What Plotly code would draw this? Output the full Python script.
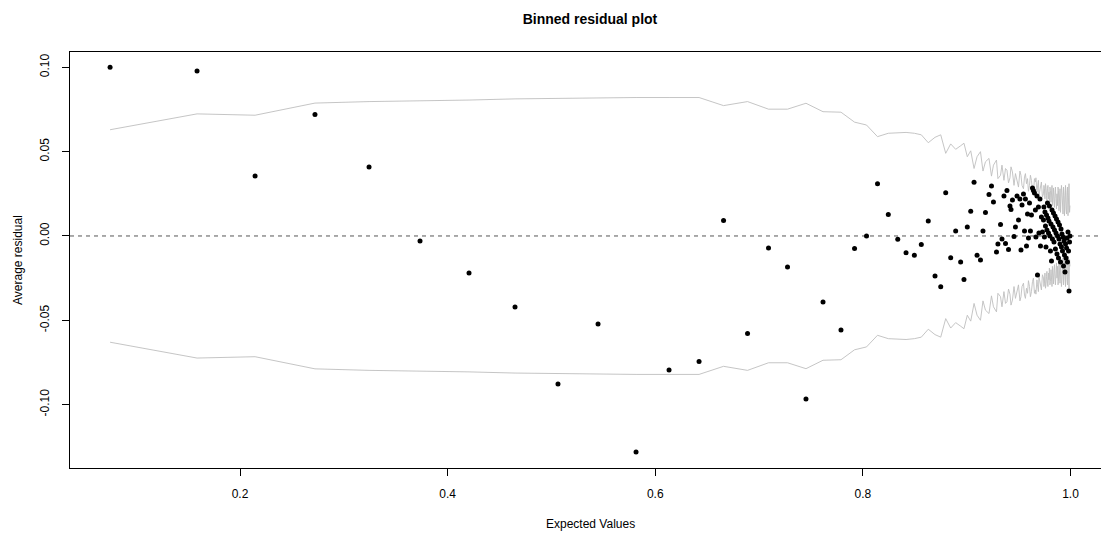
import plotly.graph_objects as go

# Binned residuals: bin mean of fitted values, average residual, and 2*SE bound
expected = [
    0.0748, 0.1586, 0.2145, 0.2722, 0.3243, 0.3734, 0.4206, 0.4649, 0.5063, 0.5449,
    0.5815, 0.6133, 0.6422, 0.6658, 0.6889, 0.7091, 0.7274, 0.7452, 0.7616, 0.7789,
    0.7920, 0.8035, 0.8141, 0.8245, 0.8336, 0.8416, 0.8496, 0.8563, 0.8630, 0.8695,
    0.8750, 0.8798, 0.8846, 0.8894, 0.8942, 0.8974, 0.9006, 0.9039, 0.9071, 0.9100,
    0.9133, 0.9157, 0.9181, 0.9215, 0.9239, 0.9258, 0.9287, 0.9301, 0.9326, 0.9340,
    0.9359, 0.9374, 0.9388, 0.9403, 0.9417, 0.9427, 0.9441, 0.9456, 0.9470, 0.9485,
    0.9499, 0.9513, 0.9523, 0.9533, 0.9547, 0.9557, 0.9566, 0.9576, 0.9586, 0.9595,
    0.9605, 0.9614, 0.9624, 0.9634, 0.9643, 0.9653, 0.9662, 0.9667, 0.9677, 0.9682,
    0.9691, 0.9696, 0.9706, 0.9711, 0.9720, 0.9730, 0.9740, 0.9744, 0.9749, 0.9754,
    0.9759, 0.9764, 0.9769, 0.9773, 0.9778, 0.9783, 0.9788, 0.9793, 0.9797, 0.9802,
    0.9807, 0.9812, 0.9817, 0.9822, 0.9826, 0.9831, 0.9836, 0.9841, 0.9846, 0.9851,
    0.9855, 0.9860, 0.9865, 0.9870, 0.9875, 0.9880, 0.9884, 0.9889, 0.9894, 0.9899,
    0.9904, 0.9909, 0.9913, 0.9918, 0.9923, 0.9928, 0.9933, 0.9938, 0.9942, 0.9947,
    0.9952, 0.9957, 0.9962, 0.9967, 0.9971, 0.9976, 0.9981, 0.9986, 0.9991, 0.9995,
]

avg_residual = [
    0.1000, 0.0979, 0.0356, 0.0721, 0.0409, -0.0030, -0.0219, -0.0421, -0.0878, -0.0522,
    -0.1281, -0.0795, -0.0744, 0.0092, -0.0578, -0.0071, -0.0184, -0.0967, -0.0391, -0.0558,
    -0.0074, 0.0000, 0.0310, 0.0128, -0.0020, -0.0099, -0.0114, -0.0050, 0.0089, -0.0237,
    -0.0301, 0.0256, -0.0129, 0.0030, -0.0154, -0.0258, 0.0053, 0.0147, 0.0319, -0.0114,
    -0.0142, 0.0030, 0.0139, 0.0246, 0.0297, 0.0202, -0.0095, -0.0047, 0.0068, -0.0018,
    0.0237, -0.0044, 0.0270, -0.0080, 0.0178, 0.0157, 0.0214, -0.0003, 0.0053, 0.0237,
    0.0095, 0.0219, -0.0083, 0.0184, 0.0249, 0.0030, 0.0219, -0.0059, 0.0130, -0.0012,
    0.0196, 0.0030, 0.0125, 0.0285, 0.0270, 0.0255, 0.0154, -0.0006, 0.0237, -0.0231,
    0.0172, 0.0018, 0.0219, -0.0059, 0.0113, 0.0024, 0.0095, 0.0172, -0.0006, 0.0142,
    0.0059, -0.0065, 0.0125, 0.0036, 0.0196, 0.0107, 0.0018, 0.0089, 0.0178, 0.0000,
    -0.0089, 0.0071, -0.0148, 0.0154, -0.0018, 0.0053, 0.0136, -0.0036, 0.0036, 0.0119,
    -0.0077, 0.0018, 0.0101, -0.0107, 0.0000, 0.0083, -0.0130, -0.0018, 0.0065, -0.0047,
    -0.0154, 0.0042, -0.0065, 0.0012, -0.0089, -0.0006, -0.0178, -0.0030, -0.0113, -0.0214,
    -0.0047, -0.0130, -0.0071, -0.0012, -0.0154, 0.0024, -0.0089, -0.0326, -0.0036, 0.0000,
]

two_se = [
    0.0630, 0.0724, 0.0716, 0.0788, 0.0797, 0.0801, 0.0806, 0.0813, 0.0816, 0.0822,
    0.0821, 0.0821, 0.0821, 0.0773, 0.0797, 0.0752, 0.0752, 0.0787, 0.0737, 0.0734,
    0.0675, 0.0658, 0.0589, 0.0609, 0.0612, 0.0614, 0.0609, 0.0600, 0.0553, 0.0585,
    0.0600, 0.0490, 0.0546, 0.0514, 0.0535, 0.0550, 0.0470, 0.0505, 0.0400, 0.0470,
    0.0500, 0.0385, 0.0440, 0.0460, 0.0355, 0.0420, 0.0450, 0.0340, 0.0360, 0.0420,
    0.0330, 0.0400, 0.0390, 0.0315, 0.0345, 0.0410, 0.0380, 0.0300, 0.0370, 0.0320,
    0.0290, 0.0385, 0.0360, 0.0300, 0.0280, 0.0350, 0.0370, 0.0310, 0.0340, 0.0265,
    0.0300, 0.0360, 0.0330, 0.0270, 0.0250, 0.0340, 0.0320, 0.0345, 0.0260, 0.0290,
    0.0330, 0.0240, 0.0275, 0.0310, 0.0320, 0.0230, 0.0250, 0.0300, 0.0280, 0.0220,
    0.0310, 0.0290, 0.0240, 0.0210, 0.0280, 0.0300, 0.0220, 0.0260, 0.0190, 0.0290,
    0.0270, 0.0200, 0.0230, 0.0300, 0.0180, 0.0260, 0.0285, 0.0200, 0.0170, 0.0260,
    0.0290, 0.0220, 0.0160, 0.0250, 0.0180, 0.0290, 0.0270, 0.0150, 0.0210, 0.0280,
    0.0140, 0.0190, 0.0300, 0.0260, 0.0150, 0.0130, 0.0290, 0.0240, 0.0120, 0.0270,
    0.0300, 0.0160, 0.0130, 0.0260, 0.0290, 0.0120, 0.0200, 0.0310, 0.0140, 0.0180,
]

x_ticks = [0.2, 0.4, 0.6, 0.8, 1.0]
x_tick_labels = ["0.2", "0.4", "0.6", "0.8", "1.0"]
y_ticks = [-0.10, -0.05, 0.00, 0.05, 0.10]
y_tick_labels = ["-0.10", "-0.05", "0.00", "0.05", "0.10"]

FONT = "Liberation Sans, Arial, sans-serif"
BAND_COLOR = "#BEBEBE"

fig = go.Figure()

# +/- 2 SE envelope
fig.add_trace(go.Scatter(
    x=expected, y=two_se, mode="lines",
    line=dict(color=BAND_COLOR, width=0.9), hoverinfo="skip", showlegend=False,
))
fig.add_trace(go.Scatter(
    x=expected, y=[-v for v in two_se], mode="lines",
    line=dict(color=BAND_COLOR, width=0.9), hoverinfo="skip", showlegend=False,
))

# binned average residuals
fig.add_trace(go.Scatter(
    x=expected, y=avg_residual, mode="markers",
    marker=dict(color="black", size=5, line=dict(width=0)),
    showlegend=False,
))

# reference line at zero
fig.add_shape(
    type="line", xref="paper", x0=0, x1=1, yref="y", y0=0, y1=0,
    line=dict(color="#555555", width=1, dash="4px,4px"), layer="below",
)

fig.update_layout(
    width=1101, height=534,
    margin=dict(l=70, r=0, t=52, b=66),
    paper_bgcolor="white", plot_bgcolor="white",
    font=dict(family=FONT, size=12, color="black"),
    title=dict(
        text="<b>Binned residual plot</b>",
        font=dict(family=FONT, size=14, color="black"),
        xref="container", x=590 / 1101, xanchor="center",
        yref="container", y=1 - 19 / 534, yanchor="middle",
    ),
    xaxis=dict(
        range=[0.0362, 1.0294],
        tickvals=x_ticks, ticktext=x_tick_labels,
        ticks="outside", ticklen=7, tickcolor="black", tickwidth=1,
        showline=True, linecolor="black", linewidth=1, mirror=True,
        showgrid=False, zeroline=False,
        ticklabelstandoff=8,
        tickfont=dict(family=FONT, size=12, color="black"),
    ),
    yaxis=dict(
        range=[-0.1376, 0.1091],
        tickvals=y_ticks, ticktext=y_tick_labels, tickangle=-90,
        ticks="outside", ticklen=7, tickcolor="black", tickwidth=1,
        showline=True, linecolor="black", linewidth=1, mirror=False,
        showgrid=False, zeroline=False,
        ticklabelstandoff=8,
        tickfont=dict(family=FONT, size=12, color="black"),
    ),
    annotations=[
        dict(text="Expected Values", xref="paper", yref="paper",
             x=(590 - 70) / 1031, y=(468 - 524) / 416,
             xanchor="center", yanchor="middle", showarrow=False,
             font=dict(family=FONT, size=12, color="black")),
        dict(text="Average residual", xref="paper", yref="paper",
             x=(18 - 70) / 1031, y=0.5, textangle=-90,
             xanchor="center", yanchor="middle", showarrow=False,
             font=dict(family=FONT, size=12, color="black")),
    ],
)

fig.write_html("out.html")
